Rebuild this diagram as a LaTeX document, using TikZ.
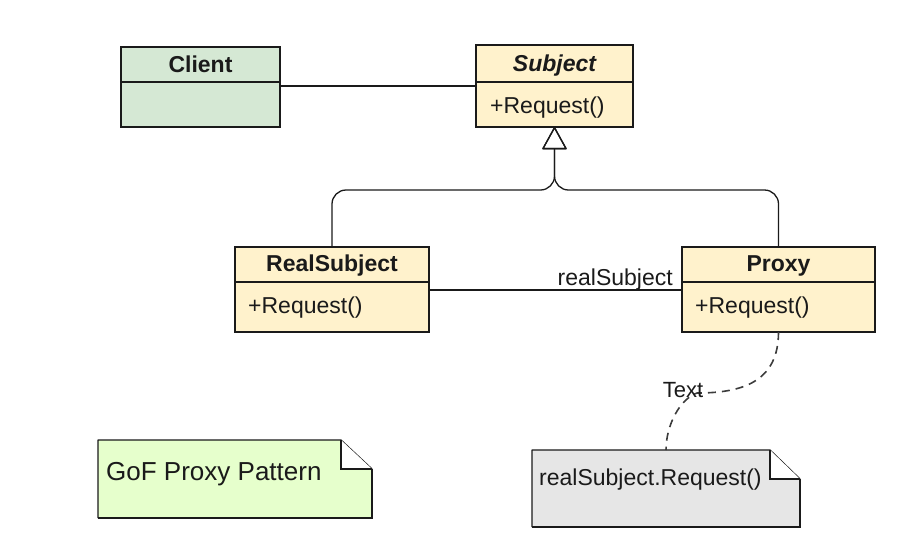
\documentclass[tikz,border=0pt]{standalone}
\usepackage{fontspec}
\setmainfont{Liberation Sans}
\usetikzlibrary{arrows.meta}
\definecolor{cgreen}{HTML}{D5E8D4}
\definecolor{cyellow}{HTML}{FFF2CC}
\definecolor{cnote}{HTML}{E6FFCC}
\definecolor{cgray}{HTML}{E6E6E6}
\definecolor{ink}{HTML}{1A1A1A}
\tikzset{
  cls/.style={draw=ink, line width=1.3pt, inner sep=0pt, outer sep=0pt, rectangle},
  ctitle/.style={font=\bfseries\fontsize{23}{27}\selectfont, text=ink, inner sep=0pt, anchor=base},
  meth/.style={font=\fontsize{23}{27}\selectfont, text=ink, anchor=base west, inner sep=0pt},
  conn/.style={draw=ink, line width=1.3pt},
  gen/.style={conn, rounded corners=14pt, -{Triangle[open, length=23pt, width=25pt, round]}},
  dep/.style={draw=ink!85, line width=1.6pt, dash pattern=on 8pt off 6pt},
  notebox/.style={inner sep=0pt, outer sep=0pt, rectangle},
  notetext/.style={font=\fontsize{23}{27}\selectfont, text=ink, anchor=base west, inner sep=0pt},
}
\begin{document}
\begin{tikzpicture}[x=1pt,y=-1pt]
\useasboundingbox (0,0) rectangle (912,550);

% Client
\node[cls, fill=cgreen, minimum width=159pt, minimum height=80pt] (client) at (200.5,87) {};
\draw[conn] (client.west |- 0,82) -- (client.east |- 0,82);
\node[ctitle] (clientT) at (200.5,72) {Client};

% Subject
\node[cls, fill=cyellow, minimum width=157pt, minimum height=82pt] (subject) at (554.5,86) {};
\draw[conn] (subject.west |- 0,82) -- (subject.east |- 0,82);
\node[ctitle, font=\bfseries\itshape\fontsize{23}{27}\selectfont] (subjectT) at (554.5,71) {Subject};
\node[meth] (subjectM) at (490,113) {+Request()};

% RealSubject
\node[cls, fill=cyellow, minimum width=194pt, minimum height=85pt] (realsub) at (332,289.5) {};
\draw[conn] (realsub.west |- 0,282) -- (realsub.east |- 0,282);
\node[ctitle] (realsubT) at (332,271) {RealSubject};
\node[meth] (realsubM) at (248,313) {+Request()};

% Proxy
\node[cls, fill=cyellow, minimum width=193pt, minimum height=85pt] (proxy) at (778.5,289.5) {};
\draw[conn] (proxy.west |- 0,282) -- (proxy.east |- 0,282);
\node[ctitle] (proxyT) at (778.5,271) {Proxy};
\node[meth] (proxyM) at (695,313) {+Request()};

% Client -- Subject
\draw[conn] (client.east |- 0,86) -- (subject.west |- 0,86);

% Generalization
\coordinate (branch) at (554.5,190);
\draw[gen] (realsub.north) |- (branch) -- (subject.south);
\draw[gen] (proxy.north) |- (branch) -- (subject.south);

% Association
\draw[conn] (realsub.east |- 0,290) -- (proxy.west |- 0,290);
\node[font=\fontsize{23}{27}\selectfont, text=ink, anchor=base east, inner sep=0pt] (assocL) at (673,285) {realSubject};

% GoF note
\node[notebox, minimum width=274pt, minimum height=78pt] (gof) at (235,479) {};
\fill[cnote] (gof.north west) -- ([xshift=-31pt]gof.north east) -- ([yshift=-29pt]gof.north east) -- (gof.south east) -- (gof.south west) -- cycle;
\draw[ink, line width=2.4pt] ([yshift=-29pt]gof.north east) -- (gof.south east) -- (gof.south west);
\draw[ink, line width=1.3pt, line join=round] (gof.south west) -- (gof.north west) -- ([xshift=-31pt]gof.north east) -- ([yshift=-29pt]gof.north east);
\draw[ink, line width=1.3pt, fill=white] ([xshift=-31pt]gof.north east) -- ([xshift=-31pt,yshift=-29pt]gof.north east) -- ([yshift=-29pt]gof.north east);
\node[notetext, font=\fontsize{26}{30}\selectfont] (gofT) at (106,480) {GoF Proxy Pattern};

% Gray note
\node[notebox, minimum width=268pt, minimum height=77pt] (gnote) at (666,488.5) {};
\fill[cgray] (gnote.north west) -- ([xshift=-30pt]gnote.north east) -- ([yshift=-29pt]gnote.north east) -- (gnote.south east) -- (gnote.south west) -- cycle;
\draw[ink, line width=2.4pt] ([yshift=-29pt]gnote.north east) -- (gnote.south east) -- (gnote.south west);
\draw[ink, line width=1.3pt, line join=round] (gnote.south west) -- (gnote.north west) -- ([xshift=-30pt]gnote.north east) -- ([yshift=-29pt]gnote.north east);
\draw[ink, line width=1.3pt, fill=white] ([xshift=-30pt]gnote.north east) -- ([xshift=-30pt,yshift=-29pt]gnote.north east) -- ([yshift=-29pt]gnote.north east);
\node[notetext] (gnoteT) at (539,485) {realSubject.Request()};

% Dashed note link
\coordinate (mid) at (697,393);
\draw[dep] (proxy.south) .. controls (778.5,382) and (742,393) .. (mid) .. controls (680,399) and (666,425) .. (gnote.north);
\node[font=\fontsize{22}{26}\selectfont, text=ink, inner sep=0pt, anchor=base] (linkL) at (683,397) {Text};
\end{tikzpicture}
\end{document}
